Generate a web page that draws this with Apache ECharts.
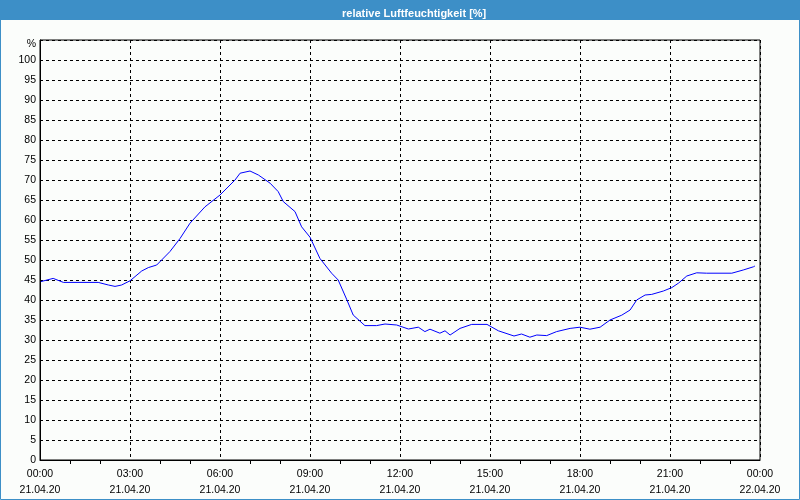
<!DOCTYPE html>
<html><head><meta charset="utf-8">
<script src="https://cdn.jsdelivr.net/npm/echarts@6/dist/echarts.min.js"></script>
<style>html,body{margin:0;padding:0;background:#fbfdfb}#c{width:800px;height:500px}</style>
</head><body><div id="c"></div>
<script>
const hours = [0.03,0.44,0.78,1.94,2.28,2.5,2.72,3.0,3.39,3.61,3.89,4.33,4.67,5.0,5.5,6.0,6.5,6.67,7.0,7.28,7.67,7.94,8.11,8.5,8.72,9.0,9.33,9.72,9.94,10.22,10.44,10.83,11.22,11.5,11.89,12.28,12.61,12.83,13.0,13.33,13.5,13.67,14.0,14.39,14.9,15.28,15.8,16.05,16.33,16.56,16.89,17.22,17.67,18.0,18.33,18.67,19.0,19.39,19.67,19.89,20.17,20.39,20.78,21.06,21.28,21.56,21.89,22.22,23.06,23.44,23.78,23.83];
const humidity = [44.6,45.4,44.4,44.4,43.75,43.4,43.75,44.8,47.25,48.1,48.75,52.1,55.4,59.2,63.3,66.25,70,71.7,72.25,71.25,69.2,67.1,64.6,62.1,58.3,55.7,50.4,46.7,45,40.2,36.25,33.6,33.6,34,33.75,32.75,33.2,32.1,32.7,31.7,32.3,31.25,32.9,33.9,33.9,32.3,31.0,31.5,30.7,31.25,31.1,32.1,32.9,33.2,32.7,33.2,35,36.2,37.5,40,41.25,41.4,42.25,43.1,44.2,46,46.8,46.7,46.7,47.5,48.3,48.5];
const timeLabels = ['00:00','03:00','06:00','09:00','12:00','15:00','18:00','21:00','00:00'];
const dateLabels = ['21.04.20','21.04.20','21.04.20','21.04.20','21.04.20','21.04.20','21.04.20','21.04.20','22.04.20'];
const titleText = 'relative Luftfeuchtigkeit [%]';
const unitLabel = '%';

const chart = echarts.init(document.getElementById('c'));
const font = '"Liberation Sans", Arial, sans-serif';
chart.setOption({
  backgroundColor: '#fbfdfb',
  animation: false,
  title: {
    text: titleText, left: 337, top: 3,
    textStyle: {color: '#ffffff', fontSize: 11, fontWeight: 'bold', fontFamily: font}
  },
  graphic: [
    {type: 'rect', z: -1, shape: {x: 0, y: 0, width: 800, height: 20}, style: {fill: '#3d8fc7'}},
    {type: 'rect', z: 100, shape: {x: 0.5, y: 0.5, width: 799, height: 499}, style: {fill: null, stroke: '#3d8fc7', lineWidth: 1}}
  ],
  grid: {left: 40, right: 40, top: 40, bottom: 40, show: true, borderColor: '#000', borderWidth: 1, backgroundColor: 'transparent'},
  xAxis: {
    type: 'value', min: 0, max: 24, interval: 3,
    axisLine: {lineStyle: {color: '#000', width: 1}},
    axisTick: {show: false},
    minorTick: {show: true, splitNumber: 3, length: 4, lineStyle: {color: '#000'}},
    splitLine: {show: true, lineStyle: {color: '#000', type: [3, 3], width: 1}},
    axisLabel: {
      margin: 6, color: '#000', fontSize: 10.5, fontFamily: font, lineHeight: 16,
      formatter: v => { const i = Math.round(v / 3); return timeLabels[i] + '\n' + dateLabels[i]; },
      showMinLabel: true, showMaxLabel: true
    }
  },
  yAxis: {
    type: 'value', min: 0, max: 105, interval: 5,
    axisLine: {show: true, lineStyle: {color: '#000', width: 1}},
    axisTick: {show: false},
    splitLine: {show: true, lineStyle: {color: '#000', type: [3, 3], width: 1}},
    axisLabel: {
      margin: 4, color: '#000', fontSize: 10.5, fontFamily: font,
      formatter: v => v === 105 ? '{u|' + unitLabel + '}' : String(v),
      rich: {u: {fontSize: 10.5, fontFamily: font, color: '#000', padding: [8, 0, 0, 0]}}
    }
  },
  series: [{
    type: 'line', data: hours.map((h, i) => [h, humidity[i]]),
    showSymbol: false, lineStyle: {color: '#0000ff', width: 1}, itemStyle: {color: '#0000ff'}
  }]
});
</script></body></html>
